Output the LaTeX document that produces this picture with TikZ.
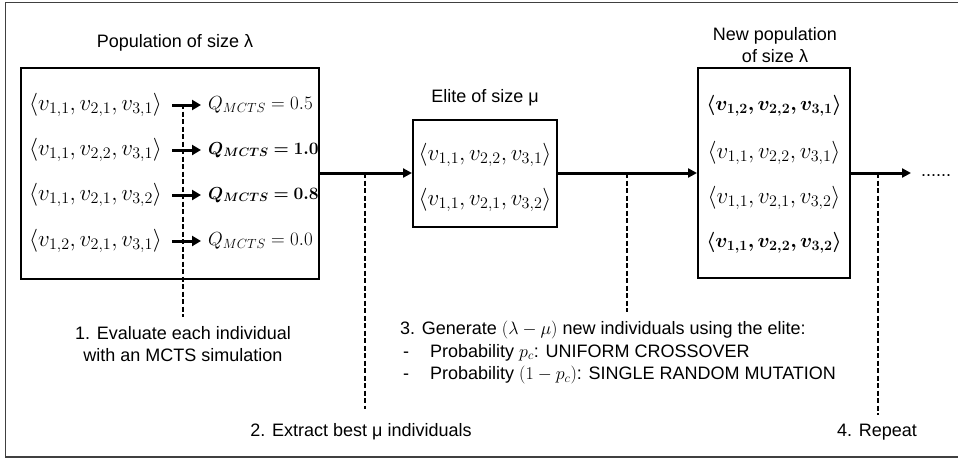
\RequirePackage{fix-cm}
\documentclass[tikz,border=0pt]{standalone}
\usepackage{bm}
\usepackage{fontspec}
\setmainfont{Liberation Sans}
\usetikzlibrary{arrows.meta}

\begin{document}
\begin{tikzpicture}[x=1pt,y=-1pt,
  lbl/.style={font=\fontsize{18}{22.5}\selectfont, inner sep=0pt},
  row/.style={font=\fontsize{23}{27}\selectfont, inner sep=0pt},
  boldrow/.style={font=\fontsize{20.3}{26}\selectfont, inner sep=0pt},
  score/.style={font=\fontsize{19}{24}\selectfont, inner sep=0pt, anchor=west},
  boldscore/.style={score, font=\fontsize{17.4}{24}\selectfont},
  box/.style={draw, line width=2pt, inner sep=0pt},
  flow/.style={line width=3pt, -{Triangle[length=9pt,width=9pt]}},
  small/.style={line width=3pt, -{Triangle[length=9pt,width=10pt]}},
  guide/.style={line width=2.2pt, dash pattern=on 5pt off 2.5pt},
  frame/.style={draw=black!75, line width=1.6pt}
]
\useasboundingbox (0,0) rectangle (958,459);
\draw[frame] (5.5,2.5) rectangle (970,457);

% --- population of size lambda ---
\node[lbl] (poptitle) at (175,43) {Population of size λ};
\node[box, minimum width=298pt, minimum height=211pt] (pop) at (170,173.5) {};

\node[row, anchor=west] (p1) at (29,105) {$\langle v_{1,1}, v_{2,1}, v_{3,1}\rangle$};
\node[row, anchor=west] (p2) at (29,150) {$\langle v_{1,1}, v_{2,2}, v_{3,1}\rangle$};
\node[row, anchor=west] (p3) at (29,195) {$\langle v_{1,1}, v_{2,1}, v_{3,2}\rangle$};
\node[row, anchor=west] (p4) at (29,241) {$\langle v_{1,2}, v_{2,1}, v_{3,1}\rangle$};

\node[score] (q1) at (208,105) {$Q_{MCTS}=0.5$};
\node[boldscore] (q2) at (208,150) {$\bm{Q_{MCTS}=1.0}$};
\node[boldscore] (q3) at (208,195) {$\bm{Q_{MCTS}=0.8}$};
\node[score] (q4) at (208,241) {$Q_{MCTS}=0.0$};

\foreach \i in {1,...,4}{
  \draw[small] (p\i.east -| 172,0) -- (q\i.west -| 201,0);
}

% --- elite of size mu ---
\node[lbl] (elitetitle) at (485,98) {Elite of size μ};
\node[box, minimum width=144pt, minimum height=107pt] (elite) at (485,173.5) {};
\node[row] (e1) at (485,155) {$\langle v_{1,1}, v_{2,2}, v_{3,1}\rangle$};
\node[row] (e2) at (485,200) {$\langle v_{1,1}, v_{2,1}, v_{3,2}\rangle$};

% --- new population of size lambda ---
\node[lbl, align=center] (newtitle) at (775,45) {New population\\of size λ};
\node[box, minimum width=152pt, minimum height=210pt] (newpop) at (774,173) {};
\node[boldrow] (n1) at (774,106) {$\bm{\langle v_{1,2}, v_{2,2}, v_{3,1}\rangle}$};
\node[row] (n2) at (774,153) {$\langle v_{1,1}, v_{2,2}, v_{3,1}\rangle$};
\node[row] (n3) at (774,198) {$\langle v_{1,1}, v_{2,1}, v_{3,2}\rangle$};
\node[boldrow] (n4) at (774,243) {$\bm{\langle v_{1,1}, v_{2,2}, v_{3,2}\rangle}$};

% --- main flow ---
\coordinate (next) at (911,173);
\node[lbl, anchor=base west] (dots) at (921,176) {......};
\draw[flow] (pop.east |- 0,173) -- (elite.west |- 0,173);
\draw[flow] (elite.east |- 0,173) -- (newpop.west |- 0,173);
\draw[flow] (newpop.east |- 0,173) -- (next);

% --- step labels ---
\node[lbl, align=center] (s1) at (183,344) {1. Evaluate each individual\\with an MCTS simulation};
\node[lbl] (s2) at (361,432) {2. Extract best μ individuals};
\node[lbl, align=left, anchor=north west] (s3) at (400,321)
  {3. Generate $(\lambda-\mu)$ new individuals using the elite:\\
   \hspace*{3pt}\makebox[27pt][l]{-}Probability $p_c$: UNIFORM CROSSOVER\\
   \hspace*{3pt}\makebox[27pt][l]{-}Probability $(1-p_c)$: SINGLE RANDOM MUTATION};
\node[lbl] (s4) at (877,432) {4. Repeat};

% --- dashed guides ---
\coordinate (g1top) at (183,104);
\coordinate (g1bot) at (183,317);
\coordinate (g2top) at (365,173);
\coordinate (g2bot) at (365,409);
\coordinate (g3top) at (627,173);
\coordinate (g3bot) at (627,312);
\coordinate (g4top) at (878,173);
\coordinate (g4bot) at (878,415);
\draw[guide] (g1top) -- (g1bot);
\draw[guide] (g2top) -- (g2bot);
\draw[guide] (g3top) -- (g3bot);
\draw[guide] (g4top) -- (g4bot);
\end{tikzpicture}
\end{document}
